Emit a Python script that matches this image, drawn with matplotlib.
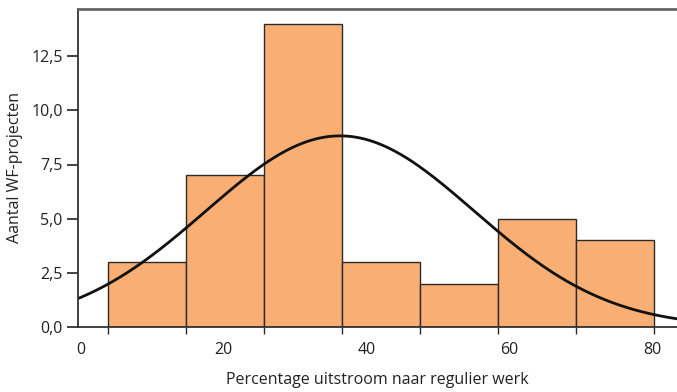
import matplotlib.pyplot as plt
import numpy as np
from matplotlib.ticker import FuncFormatter

# Histogram data
bin_start = 3.75
bin_width = 10.94
counts = [3, 7, 14, 3, 2, 5, 4]

# Fitted normal curve parameters
curve_mean = 36.3
curve_sd = 18.8

x_ticks = [0, 20, 40, 60, 80]
y_ticks = [0, 2.5, 5.0, 7.5, 10.0, 12.5]

BAR_COLOR = "#F9AF74"
EDGE_COLOR = "#2b2b2b"

plt.rcParams["font.family"] = ["Open Sans", "DejaVu Sans"]

fig = plt.figure(figsize=(6.77, 3.92), dpi=100)
ax = fig.add_axes([78 / 677, 65 / 392, 1 - 78 / 677, (327 - 8.5) / 392])

edges = bin_start + bin_width * np.arange(len(counts) + 1)
ax.bar(edges[:-1], counts, width=bin_width, align="edge",
       color=BAR_COLOR, edgecolor=EDGE_COLOR, linewidth=1.0)

xs = np.linspace(-1, 84, 400)
n = sum(counts)
ys = n * bin_width / (curve_sd * np.sqrt(2 * np.pi)) * np.exp(-0.5 * ((xs - curve_mean) / curve_sd) ** 2)
ax.plot(xs, ys, color="#111111", linewidth=2.0)

ax.set_xlim(-0.4, 83.5)
ax.set_ylim(0, 14.7)

ax.set_xticks(x_ticks)
ax.set_xticks(edges, minor=True)
ax.tick_params(axis="x", which="major", length=0, pad=11, labelsize=11.5, colors="#222222")
ax.tick_params(axis="x", which="minor", length=5, width=1.0, direction="out", color=EDGE_COLOR)
ax.set_yticks(y_ticks)
ax.yaxis.set_major_formatter(FuncFormatter(lambda v, p: f"{v:.1f}".replace(".", ",")))
ax.tick_params(axis="y", length=8, width=1.2, direction="out", labelsize=11.5,
               colors="#222222", pad=3)

ax.spines["right"].set_visible(False)
for side in ["left", "bottom", "top"]:
    ax.spines[side].set_color("#333333")
    ax.spines[side].set_linewidth(1.3)
ax.spines["top"].set_color("#666666")
ax.spines["top"].set_linewidth(2.0)

ax.set_xlabel("Percentage uitstroom naar regulier werk", fontsize=11.5, color="#222222", labelpad=10)
ax.set_ylabel("Aantal WF-projecten", fontsize=11.5, color="#222222", labelpad=6)

fig.savefig("out.png", dpi=100)
